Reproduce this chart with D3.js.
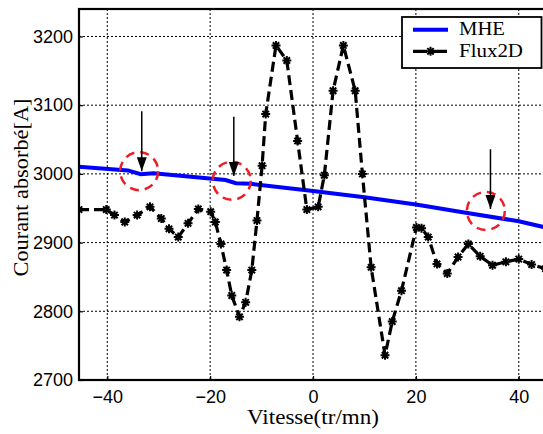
<!DOCTYPE html>
<html><head><meta charset="utf-8">
<script src="https://cdn.jsdelivr.net/npm/d3@7"></script>
<style>body{margin:0;background:#fff}svg{display:block}</style>
</head><body><svg id="c" width="543" height="434"></svg>
<script>
// ---- data ----
const xTicks = [-40, -20, 0, 20, 40];
const yTicks = [2700, 2800, 2900, 3000, 3100, 3200];
const seriesNames = ["MHE", "Flux2D"];
const mheX = [-45.5, -36, -33.5, -31, -17, -15, -12, 0, 10, 20, 30, 40, 45.2];
const mheY = [3010.5, 3005, 2999.5, 3001, 2991, 2986.5, 2985.5, 2975, 2966, 2955.5, 2943, 2931, 2922];
const fluxX = [-45.5, -40.2, -38.6, -36.6, -34.2, -31.7, -29.5, -28.0, -26.2, -24.3, -22.3, -19.9, -19.0, -17.9, -16.8, -15.8, -14.3, -13.1, -11.9, -10.9, -9.9, -9.2, -7.2, -5.1, -3.0, -1.2, 1.0, 2.2, 3.9, 5.9, 8.2, 9.6, 11.3, 14.0, 15.4, 17.2, 20.1, 21.1, 22.4, 24.1, 26.1, 28.2, 30.2, 32.5, 34.9, 37.5, 40.0, 42.5, 45.2];
const fluxY = [2948, 2948, 2940, 2930, 2940, 2952, 2935, 2920, 2908, 2928, 2949, 2945, 2930, 2898, 2860, 2823, 2792, 2813, 2860, 2932, 3012, 3087, 3187, 3165, 3048, 2948, 2952, 2998, 3121, 3187, 3121, 3000, 2864, 2736, 2785, 2830, 2922, 2921, 2908, 2869, 2855, 2879, 2898, 2880, 2867, 2872, 2876, 2868, 2862];
// annotations (data units)
const circleX = [-33.8, -15.8, 33.6];
const circleY = [3004, 2990, 2946];
const arrowX = [-33.3, -15.4, 34.5];
const arrowTop = [3091, 3083, 3036];
const arrowTip = [3004, 2997, 2949];

// ---- layout ----
const svg = d3.select("#c");
const L = 79, R = 545.5, T = 9, B = 380;
const x = d3.scaleLinear().domain([-45.5, 45.2]).range([L, R]);
const y = d3.scaleLinear().domain([2700, 3240]).range([B, T]);

const defs = svg.append("defs");
defs.append("clipPath").attr("id", "clip").append("rect")
  .attr("x", L).attr("y", T).attr("width", R - L).attr("height", B - T);
defs.append("marker").attr("id", "ah").attr("viewBox", "0 0 14 10")
  .attr("refX", 14).attr("refY", 5).attr("markerWidth", 14).attr("markerHeight", 10)
  .attr("markerUnits", "userSpaceOnUse").attr("orient", "auto")
  .append("path").attr("d", "M0,0 L14,5 L0,10 Z").attr("fill", "#000");

// grid
const grid = svg.append("g");
grid.selectAll("line.gx").data(xTicks).join("line")
  .attr("x1", d => x(d)).attr("x2", d => x(d)).attr("y1", T).attr("y2", B)
  .attr("stroke", "#000").attr("stroke-width", 1).attr("stroke-dasharray", "2,2");
grid.selectAll("line.gy").data(yTicks).join("line")
  .attr("x1", L).attr("x2", R).attr("y1", d => y(d)).attr("y2", d => y(d))
  .attr("stroke", "#000").attr("stroke-width", 1).attr("stroke-dasharray", "2,2");

// axes (labels) via d3 axes
const ax = svg.append("g").attr("transform", `translate(0,${B})`)
  .call(d3.axisBottom(x).tickValues(xTicks).tickSize(-4).tickPadding(10));
const ay = svg.append("g").attr("transform", `translate(${L},0)`)
  .call(d3.axisLeft(y).tickValues(yTicks).tickSize(-4).tickPadding(6).tickFormat(d3.format("d")));
[ax, ay].forEach(g => {
  g.select(".domain").remove();
  g.selectAll(".tick line").attr("stroke", "#000").attr("stroke-width", 1.2);
  g.selectAll("text").attr("font-family", "'Liberation Sans', Arial, sans-serif")
    .attr("font-size", 18).attr("fill", "#000");
});
ax.selectAll("text").attr("dy", "0.71em");

const plot = svg.append("g").attr("clip-path", "url(#clip)");

// MHE line
const mhe = mheX.map((v, i) => [v, mheY[i]]);
const flux = fluxX.map((v, i) => [v, fluxY[i]]);
const line = d3.line().x(d => x(d[0])).y(d => y(d[1]));
plot.append("path").attr("d", line(mhe)).attr("fill", "none")
  .attr("stroke", "#0000ff").attr("stroke-width", 4);

// Flux2D line
plot.append("path").attr("d", line(flux)).attr("fill", "none")
  .attr("stroke", "#000").attr("stroke-width", 3.2).attr("stroke-dasharray", "10,5");
const star = "M-4.5,0H4.5M0,-4.5V4.5M-3.2,-3.2L3.2,3.2M-3.2,3.2L3.2,-3.2";
plot.selectAll("path.mk").data(flux).join("path").attr("class", "mk")
  .attr("transform", d => `translate(${x(d[0])},${y(d[1])})`)
  .attr("d", star).attr("stroke", "#000").attr("stroke-width", 2).attr("fill", "none");

// red dashed circles
plot.selectAll("circle.ann").data(circleX).join("circle").attr("class", "ann")
  .attr("cx", d => x(d)).attr("cy", (d, i) => y(circleY[i])).attr("r", 19)
  .attr("fill", "none").attr("stroke", "#ee1c24").attr("stroke-width", 2.5)
  .attr("stroke-dasharray", "9,6");

// arrows
plot.selectAll("line.arr").data(arrowX).join("line").attr("class", "arr")
  .attr("x1", d => x(d)).attr("x2", d => x(d))
  .attr("y1", (d, i) => y(arrowTop[i])).attr("y2", (d, i) => y(arrowTip[i]))
  .attr("stroke", "#000").attr("stroke-width", 1.5).attr("marker-end", "url(#ah)");

// frame
svg.append("rect").attr("x", L).attr("y", T).attr("width", R - L).attr("height", B - T)
  .attr("fill", "none").attr("stroke", "#000").attr("stroke-width", 2.2);

// axis titles
svg.append("text").attr("x", x(0)).attr("y", 424).attr("text-anchor", "middle")
  .attr("font-family", "'Liberation Serif', 'Times New Roman', serif").attr("font-size", 20)
  .attr("textLength", 132).attr("lengthAdjust", "spacingAndGlyphs")
  .text("Vitesse(tr/mn)");
svg.append("text").attr("transform", "translate(28,187.5) rotate(-90)").attr("text-anchor", "middle")
  .attr("font-family", "'Liberation Serif', 'Times New Roman', serif").attr("font-size", 20)
  .attr("textLength", 178).attr("lengthAdjust", "spacingAndGlyphs")
  .text("Courant absorbé[A]");

// legend
const lg = svg.append("g");
lg.append("rect").attr("x", 402).attr("y", 17).attr("width", 139.5).attr("height", 51)
  .attr("fill", "#fff").attr("stroke", "#000").attr("stroke-width", 1.8);
const lgY = [29.7, 51.3];
lg.append("line").attr("x1", 413).attr("x2", 448).attr("y1", lgY[0]).attr("y2", lgY[0])
  .attr("stroke", "#0000ff").attr("stroke-width", 4);
lg.append("line").attr("x1", 413).attr("x2", 448).attr("y1", lgY[1]).attr("y2", lgY[1])
  .attr("stroke", "#000").attr("stroke-width", 3.2).attr("stroke-dasharray", "14,6");
lg.append("path").attr("transform", `translate(430.5,${lgY[1]})`).attr("d", star)
  .attr("stroke", "#000").attr("stroke-width", 2).attr("fill", "none");
const lgW = [46, 64];
seriesNames.forEach((n, i) => {
  lg.append("text").attr("x", 459).attr("y", lgY[i] + 5.5)
    .attr("font-family", "'Liberation Serif', 'Times New Roman', serif").attr("font-size", 18)
    .attr("textLength", lgW[i]).attr("lengthAdjust", "spacingAndGlyphs").text(n);
});
</script></body></html>
